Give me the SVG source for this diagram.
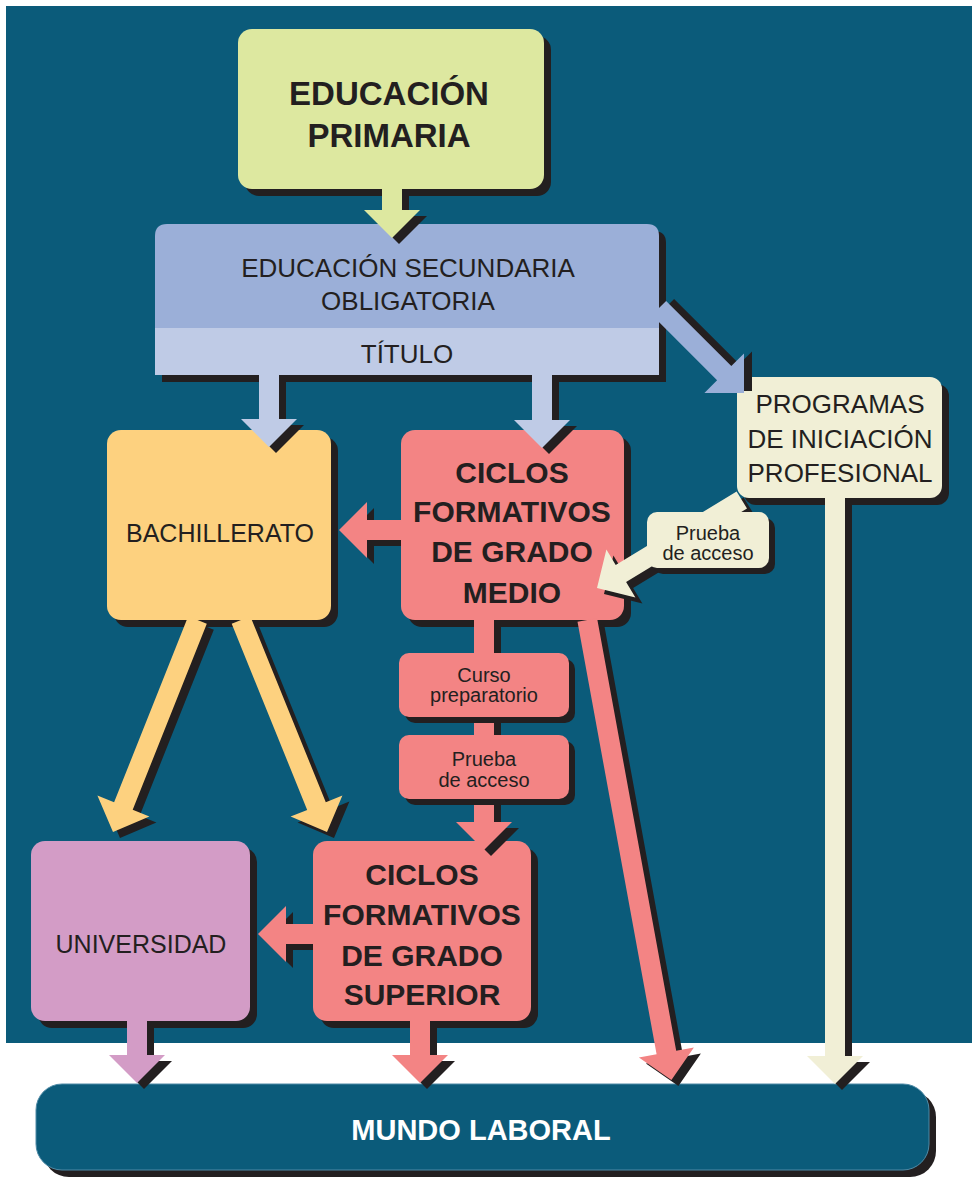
<svg xmlns="http://www.w3.org/2000/svg" width="976" height="1178" viewBox="0 0 976 1178">
<style>
.sh{fill:#231f20}
.t{font-family:"Liberation Sans",Arial,sans-serif;fill:#231f20;text-anchor:middle}
.r{font-size:26px}
.m{font-size:25px}
.s{font-size:20px}
.b{font-weight:bold;font-size:30px}
.yl{fill:#dde8a0}.es{fill:#9bafd8}.ti{fill:#bfcbe6}.ba{fill:#fdd17f}.sa{fill:#f38484}.un{fill:#d39cc6}.cr{fill:#f1efd6}
</style>
<rect x="0" y="0" width="976" height="1178" fill="#ffffff"/>
<rect x="6" y="6" width="966" height="1037" fill="#0b5b7a"/>

<g id="primaria">
<rect class="sh" x="245" y="36" width="306" height="160" rx="14"/>
<rect class="yl" x="238" y="29" width="306" height="160" rx="14"/>
<text class="t" x="389" y="105" style="font-size:33px;font-weight:bold">EDUCACIÓN</text>
<text class="t" x="389" y="147" style="font-size:33px;font-weight:bold">PRIMARIA</text>
</g>

<g id="eso">
<path class="sh" d="M162,382 V243 Q162,231 174,231 H654 Q666,231 666,243 V382 Z"/>
<path class="es" d="M155,328 V236 Q155,224 167,224 H647 Q659,224 659,236 V328 Z"/>
<rect class="ti" x="155" y="328" width="504" height="47"/>
<text class="t r" x="408" y="277">EDUCACIÓN SECUNDARIA</text>
<text class="t r" x="408" y="310">OBLIGATORIA</text>
<text class="t r" x="407" y="363">TÍTULO</text>
</g>

<g id="bachillerato">
<rect class="sh" x="114" y="437" width="224" height="190" rx="14"/>
<rect class="ba" x="107" y="430" width="224" height="190" rx="14"/>
<text class="t m" x="220" y="542">BACHILLERATO</text>
</g>

<g id="cfgm">
<rect class="sh" x="408" y="437" width="223" height="190" rx="14"/>
<rect class="sa" x="401" y="430" width="223" height="190" rx="14"/>
<text class="t b" x="512" y="483">CICLOS</text>
<text class="t b" x="512" y="522">FORMATIVOS</text>
<text class="t b" x="512" y="562">DE GRADO</text>
<text class="t b" x="512" y="603">MEDIO</text>
</g>

<g id="pip">
<rect class="sh" x="744" y="384" width="205" height="121" rx="12"/>
<rect class="cr" x="737" y="377" width="205" height="121" rx="12"/>
<text class="t r" x="840" y="413">PROGRAMAS</text>
<text class="t r" x="840" y="448">DE INICIACIÓN</text>
<text class="t r" x="840" y="482">PROFESIONAL</text>
</g>

<g id="universidad">
<rect class="sh" x="38" y="848" width="219" height="180" rx="14"/>
<rect class="un" x="31" y="841" width="219" height="180" rx="14"/>
<text class="t m" x="141" y="953">UNIVERSIDAD</text>
</g>

<g id="cfgs">
<rect class="sh" x="320" y="848" width="218" height="180" rx="14"/>
<rect class="sa" x="313" y="841" width="218" height="180" rx="14"/>
<text class="t b" x="422" y="885">CICLOS</text>
<text class="t b" x="422" y="925">FORMATIVOS</text>
<text class="t b" x="422" y="966">DE GRADO</text>
<text class="t b" x="422" y="1005">SUPERIOR</text>
</g>

<g id="mundo-laboral">
<rect class="sh" x="43" y="1091" width="893" height="86" rx="26"/>
<rect x="36" y="1084" width="893" height="86" rx="26" fill="#0b5b7a" stroke="#4f8aa6" stroke-width="1"/>
<text class="t" x="481" y="1140" style="font-size:29px;font-weight:bold;fill:#ffffff">MUNDO LABORAL</text>
</g>

<g id="connectors">
<g transform="translate(7,6)" class="sh">
<polygon points="382,189 382,210 364,210 392,238 420,210 402,210 402,189"/>
<polygon points="259,375 259,419 241,419 269,447 297,419 279,419 279,375"/>
<polygon points="532,375 532,420 514,420 542,448 570,420 552,420 552,375"/>
<polygon points="394,520 367,520 367,502 339,530 367,558 367,540 394,540"/>
<polygon points="474,620 474,822 456,822 484,850 512,822 494,822 494,620"/>
<polygon points="306,924 286,924 286,906 258,934 286,962 286,944 306,944"/>
<polygon points="127,1021 127,1055 109,1055 137,1083 165,1055 147,1055 147,1021"/>
<polygon points="410,1021 410,1055 392,1055 420,1083 448,1055 430,1055 430,1021"/>
<polygon points="825,498 825,1056 807,1056 835,1084 863,1056 845,1056 845,498"/>
<polygon points="736.6,491.5 615.7,565 606.4,549.6 597,588 635.4,597.4 626.1,582 747,508.5"/>
<polygon points="597.1,618.2 676.2,1050.7 693.9,1047.5 671.4,1080 638.9,1057.5 656.6,1054.3 577.5,621.8"/>
<polygon points="206.8,623.7 132.7,809.7 149.4,816.4 113,832 97.4,795.6 114.1,802.3 188.2,616.3"/>
<polygon points="250.3,616.2 325.8,802.3 342.4,795.6 327,832 290.6,816.6 307.2,809.9 231.7,623.8"/>
</g>
<polygon class="sh" transform="translate(8,-2)" points="666.1,300.9 731.3,366.1 744,353.4 744,393 704.4,393 717.1,380.3 651.9,315.1"/>
<polygon class="yl" points="382,189 382,210 364,210 392,238 420,210 402,210 402,189"/>
<polygon class="ti" points="259,375 259,419 241,419 269,447 297,419 279,419 279,375"/>
<polygon class="ti" points="532,375 532,420 514,420 542,448 570,420 552,420 552,375"/>
<polygon class="es" points="666.1,300.9 731.3,366.1 744,353.4 744,393 704.4,393 717.1,380.3 651.9,315.1"/>
<polygon class="sa" points="401,520 367,520 367,502 339,530 367,558 367,540 401,540"/>
<polygon class="sa" points="474,620 474,822 456,822 484,850 512,822 494,822 494,620"/>
<polygon class="sa" points="313,924 286,924 286,906 258,934 286,962 286,944 313,944"/>
<polygon class="un" points="127,1021 127,1055 109,1055 137,1083 165,1055 147,1055 147,1021"/>
<polygon class="sa" points="410,1021 410,1055 392,1055 420,1083 448,1055 430,1055 430,1021"/>
<polygon class="cr" points="825,498 825,1056 807,1056 835,1084 863,1056 845,1056 845,498"/>
<polygon class="cr" points="736.6,491.5 615.7,565 606.4,549.6 597,588 635.4,597.4 626.1,582 747,508.5"/>
<polygon class="sa" points="597.1,618.2 676.2,1050.7 693.9,1047.5 671.4,1080 638.9,1057.5 656.6,1054.3 577.5,621.8"/>
<polygon class="ba" points="206.8,623.7 132.7,809.7 149.4,816.4 113,832 97.4,795.6 114.1,802.3 188.2,616.3"/>
<polygon class="ba" points="250.3,616.2 325.8,802.3 342.4,795.6 327,832 290.6,816.6 307.2,809.9 231.7,623.8"/>
</g>

<g id="prueba-acceso-pip">
<rect class="sh" x="653" y="518" width="122" height="56" rx="10"/>
<rect class="cr" x="647" y="512" width="122" height="56" rx="10"/>
<text class="t s" x="708" y="540">Prueba</text>
<text class="t s" x="708" y="560">de acceso</text>
</g>

<g id="curso-preparatorio">
<rect class="sh" x="405" y="659" width="170" height="64" rx="10"/>
<rect class="sa" x="399" y="653" width="170" height="64" rx="10"/>
<text class="t s" x="484" y="682">Curso</text>
<text class="t s" x="484" y="702">preparatorio</text>
</g>

<g id="prueba-acceso-cfgm">
<rect class="sh" x="405" y="741" width="170" height="64" rx="10"/>
<rect class="sa" x="399" y="735" width="170" height="64" rx="10"/>
<text class="t s" x="484" y="766">Prueba</text>
<text class="t s" x="484" y="787">de acceso</text>
</g>
</svg>
